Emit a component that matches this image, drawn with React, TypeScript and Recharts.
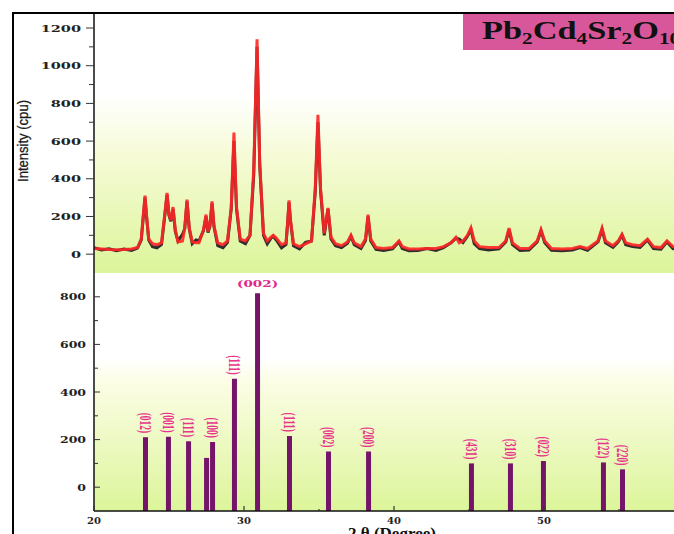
import React from 'react';
import {
  ComposedChart,
  Line,
  Bar,
  XAxis,
  YAxis,
  CartesianGrid,
  LabelList,
  Label
} from 'recharts';

// 2θ grid shared by the measured and calculated patterns
const ANGLES = [
  20.0, 20.5, 21.0, 21.5, 22.0, 22.5, 22.9, 23.15, 23.3, 23.4,
  23.5, 23.65, 23.9, 24.2, 24.5, 24.7, 24.87, 25.0, 25.12, 25.27,
  25.42, 25.6, 25.9, 26.05, 26.2, 26.35, 26.55, 26.8, 27.0, 27.3,
  27.47, 27.6, 27.72, 27.87, 28.0, 28.25, 28.6, 28.9, 29.15, 29.33,
  29.5, 29.75, 30.1, 30.4, 30.65, 30.87, 31.05, 31.3, 31.55, 31.8,
  31.95, 32.15, 32.5, 32.8, 32.92, 33.0, 33.1, 33.3, 33.7, 34.1,
  34.5, 34.75, 34.93, 35.1, 35.35, 35.6, 35.8, 36.1, 36.5, 36.9,
  37.13, 37.35, 37.8, 38.1, 38.27, 38.45, 38.8, 39.3, 39.9, 40.15,
  40.33, 40.55, 41.0, 41.6, 42.2, 42.8, 43.3, 43.8, 44.13, 44.35,
  44.6, 44.9, 45.13, 45.35, 45.7, 46.3, 47.0, 47.45, 47.67, 47.9,
  48.4, 49.0, 49.55, 49.8, 50.05, 50.5, 51.2, 51.9, 52.4, 52.9,
  53.6, 53.87, 54.1, 54.6, 54.95, 55.2, 55.45, 55.9, 56.4, 56.9,
  57.3, 57.8, 58.2, 58.6, 59.2, 60.0
];

// calculated pattern (red)
const CALC = [
  30, 28, 25, 24, 25, 27, 35, 80, 220, 310,
  210, 80, 55, 50, 60, 200, 325, 210, 180, 250,
  130, 65, 70, 140, 290, 140, 65, 60, 60, 130,
  210, 120, 150, 280, 150, 60, 50, 70, 250, 645,
  250, 80, 70, 100, 450, 1140, 480, 110, 70, 90,
  100, 85, 50, 60, 180, 285, 180, 55, 40, 55,
  70, 350, 740, 350, 110, 245, 90, 55, 45, 65,
  100, 60, 40, 80, 210, 80, 35, 30, 35, 55,
  70, 40, 28, 28, 30, 30, 40, 60, 90, 60,
  70, 100, 140, 70, 40, 35, 35, 70, 138, 60,
  30, 30, 70, 130, 70, 30, 28, 30, 40, 30,
  70, 138, 70, 45, 70, 105, 60, 50, 45, 80,
  40, 35, 70, 40, 30, 30
];

// observed pattern (dark grey)
const OBS = [
  35, 22, 28, 18, 27, 20, 32, 75, 210, 300,
  200, 75, 40, 34, 52, 190, 315, 205, 175, 240,
  120, 70, 105, 135, 280, 135, 55, 75, 70, 125,
  200, 115, 145, 270, 145, 45, 34, 62, 240, 600,
  240, 70, 55, 100, 420, 1100, 470, 100, 55, 85,
  95, 75, 34, 52, 175, 275, 175, 45, 28, 62,
  70, 330, 700, 340, 100, 240, 80, 45, 35, 58,
  95, 50, 30, 72, 200, 70, 26, 20, 28, 50,
  65, 30, 18, 20, 30, 20, 35, 60, 85, 80,
  62, 95, 130, 55, 30, 22, 28, 65, 130, 50,
  20, 22, 65, 125, 60, 20, 18, 22, 35, 20,
  65, 130, 60, 36, 65, 100, 50, 40, 36, 75,
  30, 26, 65, 30, 22, 22
];

// reference stick pattern
const STICK_ANGLES = [23.4, 24.93, 26.27, 27.47, 27.87, 29.33, 30.87, 33.0, 35.6, 38.27, 45.13, 47.73, 49.93, 53.93, 55.2];
const STICK_HEIGHTS = [210, 212, 193, 123, 190, 456, 815, 215, 150, 150, 100, 100, 110, 104, 75];
const STICK_LABELS = ['(012)', '(001)', '(111)', '', '(100)', '(111)', '(002)', '(111)', '(002)', '(200)', '(431)', '(310)', '(022)', '(122)', '(220)'];

const TOP_TICKS = [0, 100, 200, 300, 400, 500, 600, 700, 800, 900, 1000, 1100, 1200];
const BOTTOM_TICKS = [0, 100, 200, 300, 400, 500, 600, 700, 800];
const X_TICKS = [20, 25, 30, 35, 40, 45, 50, 55];

const AXIS_FLOOR = -100;

const patternData = ANGLES.map((a, i) => ({ angle: a, calc: CALC[i], obs: OBS[i] }));
const stickData = STICK_ANGLES.map((a, i) => ({
  angle: a,
  range: [AXIS_FLOOR, STICK_HEIGHTS[i]],
  label: STICK_LABELS[i]
}));
const tallest = Math.max(...STICK_HEIGHTS);

const tickFont = '"DejaVu Serif", serif';

const TopYTick = ({ x, y, payload }: any) => {
  const v = payload.value as number;
  const major = v % 200 === 0;
  return (
    <g>
      <line x1={x - (major ? 8 : 5)} x2={x} y1={y} y2={y} stroke="#333" strokeWidth={1} />
      {major && (
        <text
          transform={`translate(${x - 13},${y}) scale(1.45,1)`}
          textAnchor="end"
          dy="0.36em"
          fontFamily={tickFont}
          fontWeight="bold"
          fontSize={10}
          fill="#222"
        >
          {v}
        </text>
      )}
    </g>
  );
};

const BottomYTick = ({ x, y, payload }: any) => {
  const v = payload.value as number;
  const major = v % 200 === 0;
  return (
    <g>
      <line x1={x} x2={x + (major ? 6 : 4)} y1={y} y2={y} stroke="#333" strokeWidth={1} />
      {major && (
        <text
          transform={`translate(${x - 8},${y}) scale(1.25,1)`}
          textAnchor="end"
          dy="0.36em"
          fontFamily={tickFont}
          fontWeight="bold"
          fontSize={10}
          fill="#222"
        >
          {v}
        </text>
      )}
    </g>
  );
};

const BottomXTick = ({ x, y, payload }: any) => {
  const v = payload.value as number;
  const major = v % 10 === 0;
  return (
    <g>
      <line x1={x} x2={x} y1={y} y2={y - (major ? 5 : 2)} stroke="#333" strokeWidth={1.2} />
      {major && (
        <text x={x} y={y + 9} dy="0.36em" textAnchor="middle" fontFamily={tickFont} fontWeight="bold" fontSize={10} fill="#222">
          {v}
        </text>
      )}
    </g>
  );
};

const StickLabel = (props: any) => {
  const { x, y, width, value, index } = props;
  if (!value) return null;
  const cx = x + width / 2;
  if (STICK_HEIGHTS[index] === tallest) {
    return (
      <text
        transform={`translate(${cx},${y - 6}) scale(1.5,1)`}
        textAnchor="middle"
        fontFamily={tickFont}
        fontWeight="bold"
        fontSize={9}
        fill="#e0288a"
      >
        {value}
      </text>
    );
  }
  return (
    <text
      transform={`translate(${cx},${y - 4}) rotate(90) scale(1,1.75)`}
      textAnchor="end"
      dy="0.34em"
      fontFamily='"Liberation Serif", serif'
      fontWeight="bold"
      fontSize={9.5}
      fill="#e8348c"
    >
      {value}
    </text>
  );
};

const IntensityTitle = (props: any) => {
  const { viewBox } = props;
  const cx = viewBox.x + 9;
  const cy = 141;
  return (
    <text
      transform={`translate(${cx},${cy}) rotate(-90)`}
      textAnchor="middle"
      dy="0.35em"
      fontFamily='"Liberation Sans Narrow", "Liberation Sans", sans-serif'
      fontSize={15}
      fill="#1a1a1a"
      stroke="#1a1a1a"
      strokeWidth={0.3}
      textLength={82}
      lengthAdjust="spacingAndGlyphs"
    >
      Intensity (cpu)
    </text>
  );
};

const DegreeTitle = (props: any) => {
  const { viewBox } = props;
  return (
    <text
      x={viewBox.x + viewBox.width / 2 - 2}
      y={viewBox.y + 28}
      textAnchor="middle"
      fontFamily='"Liberation Serif", serif'
      fontWeight="bold"
      fontSize={17}
      fill="#111"
    >
      2 θ (Degree)
    </text>
  );
};

export default function App() {
  return (
    <div style={{ position: 'fixed', left: 0, top: 0, width: 674, height: 534, overflow: 'hidden', background: '#fff' }}>
      <div style={{ position: 'absolute', left: 0, top: 0 }}>
        <ComposedChart width={700} height={276} data={patternData} margin={{ top: 12, right: 6, bottom: 3, left: 14 }}>
          <defs>
            <linearGradient id="topBg" x1="0" y1="0" x2="0" y2="1">
              <stop offset="0" stopColor="#ffffff" />
              <stop offset="0.32" stopColor="#ffffff" />
              <stop offset="0.55" stopColor="#f6fbd6" />
              <stop offset="1" stopColor="#dcf59a" />
            </linearGradient>
          </defs>
          <CartesianGrid horizontal={false} vertical={false} fill="url(#topBg)" />
          <XAxis
            dataKey="angle"
            type="number"
            domain={[20, 60]}
            allowDataOverflow
            height={0}
            tick={false}
            tickLine={false}
            axisLine={{ stroke: '#5d6b4c', strokeWidth: 1.5 }}
          />
          <YAxis
            type="number"
            domain={[-100, 1285]}
            allowDataOverflow
            ticks={TOP_TICKS}
            interval={0}
            width={80}
            tickSize={0}
            tickMargin={0}
            tickLine={false}
            tick={<TopYTick />}
            axisLine={{ stroke: '#111', strokeWidth: 1.5 }}
          >
            <Label content={<IntensityTitle />} />
          </YAxis>
          <Line dataKey="obs" type="linear" stroke="#2e2e2e" strokeWidth={3} dot={false} isAnimationActive={false} />
          <Line dataKey="calc" type="linear" stroke="#ff2626" strokeWidth={3} strokeOpacity={0.9} dot={false} isAnimationActive={false} />
        </ComposedChart>
      </div>

      <div style={{ position: 'absolute', left: 0, top: 270 }}>
        <ComposedChart width={700} height={264} data={stickData} margin={{ top: 3, right: 6, bottom: 0, left: 14 }}>
          <defs>
            <linearGradient id="botBg" x1="0" y1="0" x2="0" y2="1">
              <stop offset="0" stopColor="#ffffff" />
              <stop offset="0.36" stopColor="#ffffff" />
              <stop offset="0.45" stopColor="#fcfde6" />
              <stop offset="1" stopColor="#dcf59a" />
            </linearGradient>
          </defs>
          <CartesianGrid horizontal={false} vertical={false} fill="url(#botBg)" />
          <XAxis
            dataKey="angle"
            type="number"
            domain={[20, 60]}
            allowDataOverflow
            ticks={X_TICKS}
            interval={0}
            height={23}
            tickSize={0}
            tickMargin={0}
            tickLine={false}
            tick={<BottomXTick />}
            axisLine={{ stroke: '#111', strokeWidth: 1.5 }}
          >
            <Label content={<DegreeTitle />} />
          </XAxis>
          <YAxis
            type="number"
            domain={[AXIS_FLOOR, 900]}
            allowDataOverflow
            ticks={BOTTOM_TICKS}
            interval={0}
            width={80}
            tickSize={0}
            tickMargin={0}
            tickLine={false}
            tick={<BottomYTick />}
            axisLine={{ stroke: '#111', strokeWidth: 1.5 }}
          />
          <Bar dataKey="range" barSize={5} fill="#741569" isAnimationActive={false}>
            <LabelList dataKey="label" content={<StickLabel />} />
          </Bar>
        </ComposedChart>
      </div>

      <div
        style={{
          position: 'absolute',
          left: 463,
          top: 14,
          width: 240,
          height: 36,
          background: '#d8579b',
          overflow: 'hidden'
        }}
      >
        <div
          style={{
            position: 'absolute',
            left: 19,
            top: 2,
            whiteSpace: 'nowrap',
            fontFamily: '"Liberation Serif", serif',
            fontWeight: 'bold',
            fontSize: 26,
            lineHeight: '30px',
            color: '#111',
            transform: 'scaleX(1.32)',
            transformOrigin: 'left center'
          }}
        >
          Pb<sub style={{ fontSize: '0.62em', verticalAlign: '-0.3em' }}>2</sub>Cd
          <sub style={{ fontSize: '0.62em', verticalAlign: '-0.3em' }}>4</sub>Sr
          <sub style={{ fontSize: '0.62em', verticalAlign: '-0.3em' }}>2</sub>O
          <sub style={{ fontSize: '0.62em', verticalAlign: '-0.3em' }}>10</sub>
        </div>
      </div>

      <div
        style={{
          position: 'absolute',
          left: 12,
          top: 12,
          width: 700,
          height: 540,
          borderLeft: '2px solid #000',
          borderTop: '2px solid #000'
        }}
      />
    </div>
  );
}
